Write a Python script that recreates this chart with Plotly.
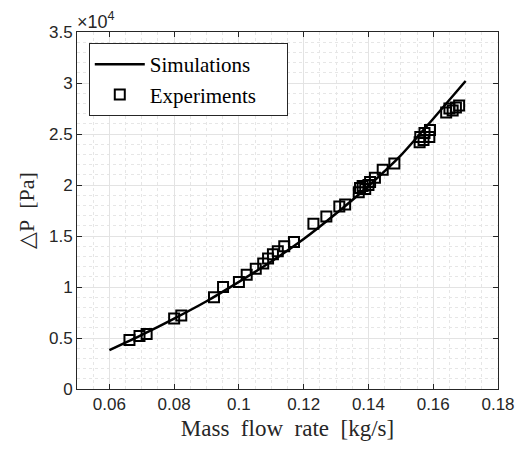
import plotly.graph_objects as go

# Simulation curve (mass flow rate [kg/s], ΔP [x1e4 Pa])
sim_x = [0.06, 0.07, 0.08, 0.09, 0.10, 0.11, 0.12, 0.13, 0.14, 0.15, 0.16, 0.17]
sim_y = [0.38, 0.53, 0.69, 0.86, 1.05, 1.25, 1.47, 1.72, 1.99, 2.29, 2.65, 3.02]

# Experimental points
exp_x = [0.0662, 0.0693, 0.0715, 0.0800, 0.0822, 0.0923, 0.0951, 0.1000, 0.1024, 0.1052,
         0.1075, 0.1090, 0.1105, 0.1120, 0.1140, 0.1170, 0.1230, 0.1270, 0.1310, 0.1328,
         0.1370, 0.1374, 0.1382, 0.1390, 0.1400, 0.1405, 0.1420, 0.1444, 0.1480,
         0.1558, 0.1560, 0.1570, 0.1573, 0.1588, 0.1590,
         0.1640, 0.1650, 0.1660, 0.1670, 0.1680]
exp_y = [0.48, 0.52, 0.54, 0.69, 0.72, 0.90, 1.00, 1.05, 1.12, 1.18,
         1.23, 1.28, 1.32, 1.35, 1.40, 1.44, 1.62, 1.69, 1.79, 1.81,
         1.93, 1.97, 1.99, 1.96, 2.00, 2.03, 2.07, 2.15, 2.21,
         2.42, 2.47, 2.44, 2.51, 2.47, 2.54,
         2.71, 2.75, 2.73, 2.76, 2.78]

x_ticks = [0.06, 0.08, 0.1, 0.12, 0.14, 0.16, 0.18]
x_tick_labels = ["0.06", "0.08", "0.1", "0.12", "0.14", "0.16", "0.18"]
y_ticks = [0, 0.5, 1, 1.5, 2, 2.5, 3, 3.5]
y_tick_labels = ["0", "0.5", "1", "1.5", "2", "2.5", "3", "3.5"]

serif = "Liberation Serif, DejaVu Serif, serif"
sans = "Liberation Sans, Arial, sans-serif"
axis_col = "#262626"
gap = "\u00a0\u00a0"
pad = "\u00a0" * 6

fig = go.Figure()
fig.add_trace(go.Scatter(
    x=sim_x, y=sim_y, mode="lines", name="Simulations" + pad,
    line=dict(color="black", width=2.5, shape="spline", smoothing=0.6),
))
fig.add_trace(go.Scatter(
    x=exp_x, y=exp_y, mode="markers", name="Experiments",
    marker=dict(symbol="square-open", size=10, color="black", line=dict(width=2)),
))

axis_common = dict(
    showline=True, linecolor=axis_col, linewidth=1, mirror="allticks",
    ticks="inside", ticklen=5, tickcolor=axis_col,
    tickfont=dict(family=sans, size=17, color=axis_col),
    showgrid=True, gridcolor="#e3e3e3", gridwidth=1,
    zeroline=False,
)

fig.update_xaxes(
    range=[0.05, 0.18], tickvals=x_ticks, ticktext=x_tick_labels,
    title=dict(text=gap.join(["Mass", "flow", "rate", "[kg/s]"]),
               font=dict(family=serif, size=23, color=axis_col), standoff=6),
    minor=dict(dtick=0.005, showgrid=True, gridcolor="#e6e6e6", griddash="dot", gridwidth=1, ticks=""),
    **axis_common,
)
fig.update_yaxes(
    range=[0, 3.5], tickvals=y_ticks, ticktext=y_tick_labels,
    title=dict(text="△P" + gap + "[Pa]", font=dict(family=serif, size=22, color=axis_col), standoff=8),
    minor=dict(dtick=0.1, showgrid=True, gridcolor="#e6e6e6", griddash="dot", gridwidth=1, ticks=""),
    **axis_common,
)

fig.add_annotation(
    x=0, y=1, xref="paper", yref="paper", xanchor="left", yanchor="bottom",
    text="×10<sup>4</sup>", showarrow=False, yshift=-2, xshift=-2,
    font=dict(family=sans, size=18, color=axis_col),
)

fig.update_layout(
    width=527, height=452,
    margin=dict(l=77, r=26, t=32, b=63),
    paper_bgcolor="white", plot_bgcolor="white",
    showlegend=True,
    legend=dict(
        x=0.028, y=0.969, xanchor="left", yanchor="top",
        bgcolor="white", bordercolor=axis_col, borderwidth=1,
        font=dict(family=serif, size=21, color="black"),
        tracegroupgap=0, itemwidth=50,
    ),
)

fig.write_html("out.html", config={"displayModeBar": False},
               post_script="document.body.style.margin='0';")
